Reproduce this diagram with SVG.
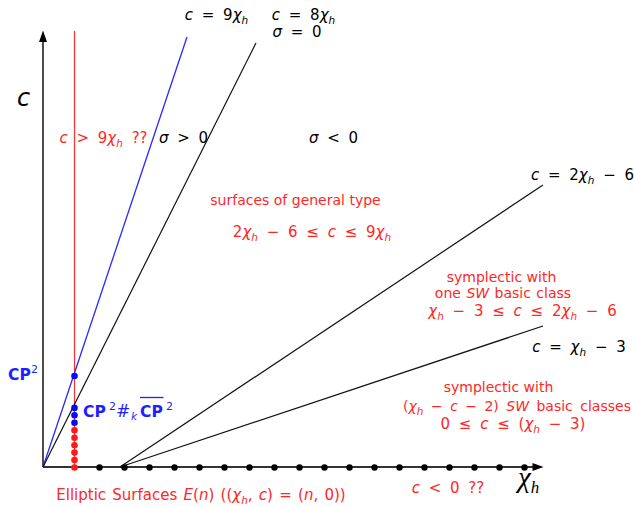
<svg xmlns="http://www.w3.org/2000/svg" width="634" height="507" viewBox="0 0 634 507">
<defs>
<style>
.t{font-family:"DejaVu Sans",sans-serif;font-size:14px}
.m{font-size:15px;word-spacing:4px}
.i{font-style:italic}
.s{font-size:10.5px;font-style:italic}
.r{fill:#ff2626}
.k{fill:#000}
.b{fill:#1e1eff}
.bd{font-weight:bold;font-size:15.5px}
.sup{font-size:11px}
.big{font-size:24px}
.hash{font-size:17px}
.dr{fill:#ff1a1a}
.db{fill:#0a0aee}
.dk{fill:#000}
</style>
</defs>
<rect width="634" height="507" fill="#fff"/>
<g id="connectors" fill="none">
<line x1="43" y1="467" x2="43" y2="40" stroke="#000" stroke-width="1.4"/>
<polygon points="43,30.5 39,42 47,42" fill="#000"/>
<line x1="43" y1="467" x2="534" y2="467" stroke="#333" stroke-width="2"/>
<polygon points="543.5,467 532.5,463 532.5,471" fill="#000"/>
<line x1="74.5" y1="31" x2="74.5" y2="467" stroke="#ff3030" stroke-width="1.2"/>
<line x1="43" y1="467" x2="187" y2="37" stroke="#2828ff" stroke-width="1.3"/>
<line x1="43" y1="467" x2="256" y2="43" stroke="#111" stroke-width="1.2"/>
<line x1="120" y1="467" x2="543" y2="185" stroke="#111" stroke-width="1.2"/>
<line x1="120" y1="467" x2="543" y2="326" stroke="#111" stroke-width="1.2"/>
</g>
<g id="axis-dots" class="dk">
<circle cx="99.5" cy="467.5" r="3.2"/><circle cx="124.5" cy="467.5" r="3.2"/><circle cx="149.5" cy="467.5" r="3.2"/><circle cx="174.5" cy="467.5" r="3.2"/><circle cx="199.5" cy="467.5" r="3.2"/><circle cx="224.5" cy="467.5" r="3.2"/><circle cx="249.5" cy="467.5" r="3.2"/><circle cx="274.5" cy="467.5" r="3.2"/><circle cx="299.5" cy="467.5" r="3.2"/><circle cx="324.5" cy="467.5" r="3.2"/><circle cx="349.5" cy="467.5" r="3.2"/><circle cx="374.5" cy="467.5" r="3.2"/><circle cx="399.5" cy="467.5" r="3.2"/><circle cx="424.5" cy="467.5" r="3.2"/><circle cx="449.5" cy="467.5" r="3.2"/><circle cx="474.5" cy="467.5" r="3.2"/><circle cx="499.5" cy="467.5" r="3.2"/><circle cx="524.5" cy="467.5" r="3.2"/>
</g>
<g id="elliptic-dots" class="dr">
<circle cx="74.5" cy="467.5" r="3.3"/><circle cx="74.5" cy="460" r="3.3"/><circle cx="74.5" cy="452.6" r="3.3"/><circle cx="74.5" cy="445.2" r="3.3"/><circle cx="74.5" cy="437.7" r="3.3"/><circle cx="74.5" cy="430.3" r="3.3"/>
</g>
<g id="rational-dots" class="db">
<circle cx="74.5" cy="422.8" r="3.3"/><circle cx="74.5" cy="415.3" r="3.3"/><circle cx="74.5" cy="407.9" r="3.3"/><circle cx="74.5" cy="376" r="3.3"/>
</g>
<g id="axis-labels">
<text x="17" y="106" class="t k i big">c</text>
<text x="518" y="487" font-family="Liberation Serif,serif" font-style="italic" font-size="29" fill="#000">χ<tspan font-size="17" dy="6">h</tspan></text>
</g>
<g id="line-labels" class="t k m">
<text x="216.5" y="20" text-anchor="middle"><tspan class="i">c</tspan> = 9<tspan class="i">χ</tspan><tspan class="s" dy="4">h</tspan></text>
<text x="303.5" y="20" text-anchor="middle"><tspan class="i">c</tspan> = 8<tspan class="i">χ</tspan><tspan class="s" dy="4">h</tspan></text>
<text x="297" y="37" text-anchor="middle"><tspan class="i">σ</tspan> = 0</text>
<text x="183.5" y="143" text-anchor="middle"><tspan class="i">σ</tspan> &gt; 0</text>
<text x="333.5" y="143" text-anchor="middle"><tspan class="i">σ</tspan> &lt; 0</text>
<text x="582.5" y="180" text-anchor="middle"><tspan class="i">c</tspan> = 2<tspan class="i">χ</tspan><tspan class="s" dy="4">h</tspan><tspan dy="-4"> − 6</tspan></text>
<text x="579" y="352" text-anchor="middle"><tspan class="i">c</tspan> = <tspan class="i">χ</tspan><tspan class="s" dy="4">h</tspan><tspan dy="-4"> − 3</tspan></text>
</g>
<g id="region-labels" class="t r">
<text x="103.5" y="143" text-anchor="middle" class="m"><tspan class="i">c</tspan> &gt; 9<tspan class="i">χ</tspan><tspan class="s" dy="4">h</tspan><tspan dy="-4"> ??</tspan></text>
<text x="295.5" y="205" text-anchor="middle">surfaces of general type</text>
<text x="312" y="237" text-anchor="middle" class="m">2<tspan class="i">χ</tspan><tspan class="s" dy="4">h</tspan><tspan dy="-4"> − 6 ≤ </tspan><tspan class="i">c</tspan> ≤ 9<tspan class="i">χ</tspan><tspan class="s" dy="4">h</tspan></text>
<text x="501.5" y="282" text-anchor="middle">symplectic with</text>
<text x="503" y="298" text-anchor="middle" word-spacing="1">one <tspan class="i">SW</tspan> basic class</text>
<text x="522.5" y="316" text-anchor="middle" class="m"><tspan class="i">χ</tspan><tspan class="s" dy="4">h</tspan><tspan dy="-4"> − 3 ≤ </tspan><tspan class="i">c</tspan> ≤ 2<tspan class="i">χ</tspan><tspan class="s" dy="4">h</tspan><tspan dy="-4"> − 6</tspan></text>
<text x="498.5" y="392" text-anchor="middle">symplectic with</text>
<text x="517" y="411" text-anchor="middle" word-spacing="3">(<tspan class="i">χ</tspan><tspan class="s" dy="4">h</tspan><tspan dy="-4"> − </tspan><tspan class="i">c</tspan> − 2) <tspan class="i">SW</tspan> basic classes</text>
<text x="513" y="429" text-anchor="middle" class="m">0 ≤ <tspan class="i">c</tspan> ≤ (<tspan class="i">χ</tspan><tspan class="s" dy="4">h</tspan><tspan dy="-4"> − 3)</tspan></text>
<text x="448" y="493" text-anchor="middle" class="m" word-spacing="3"><tspan class="i">c</tspan> &lt; 0 ??</text>
<text x="201" y="500" text-anchor="middle" class="m" style="word-spacing:1.5px"><tspan>Elliptic Surfaces </tspan><tspan class="i">E</tspan>(<tspan class="i">n</tspan>) ((<tspan class="i">χ</tspan><tspan class="s" dy="4">h</tspan><tspan dy="-4">, </tspan><tspan class="i">c</tspan>) = (<tspan class="i">n</tspan>, 0))</text>
</g>
<g id="cp2-label" class="t b">
<text y="380"><tspan x="8" class="bd">CP</tspan><tspan x="31" dy="-7" class="sup">2</tspan></text>
</g>
<g id="cp2-blowup-label" class="t b">
<text y="417"><tspan x="83" class="bd">CP</tspan><tspan x="109" dy="-7" class="sup">2</tspan><tspan x="116" dy="7" class="i hash">#</tspan><tspan x="131" dy="3" class="s">k</tspan><tspan x="140" dy="-3" class="bd">CP</tspan><tspan x="166" dy="-7" class="sup">2</tspan></text>
<line x1="140" y1="397.5" x2="163.5" y2="397.5" stroke="#1e1eff" stroke-width="1.3"/>
</g>
</svg>
